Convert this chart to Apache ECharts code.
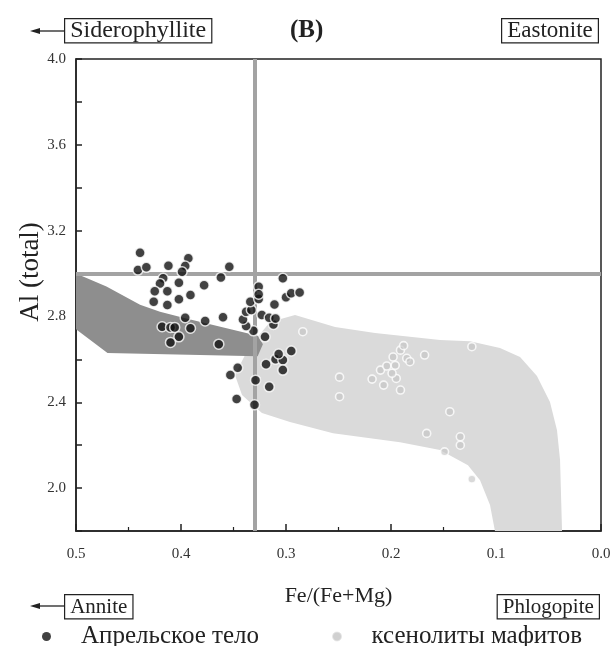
<!DOCTYPE html>
<html>
<head>
<meta charset="utf-8">
<script src="https://cdn.jsdelivr.net/npm/echarts@6/dist/echarts.min.js"></script>
<style>
html,body{margin:0;padding:0;background:#fff;}
#c{width:614px;height:646px;}
</style>
</head>
<body>
<div id="c"></div>
<script>
// ---- data ----
const xTicks = [0.5, 0.4, 0.3, 0.2, 0.1, 0.0];
const yTicks = [2.0, 2.4, 2.8, 3.2, 3.6, 4.0];

const aprelX = [0.439,0.441,0.433,0.412,0.393,0.396,0.399,0.417,0.420,0.402,0.425,0.413,0.391,0.402,0.426,0.413,0.378,0.362,0.354,0.360,0.377,0.396,0.391,0.418,0.410,0.406,0.402,0.410,0.364,0.353,0.346,0.347,0.330,0.329,0.316,0.319,0.310,0.303,0.303,0.295,0.307,0.320,0.312,0.331,0.338,0.341,0.338,0.333,0.323,0.316,0.310,0.334,0.326,0.326,0.326,0.311,0.300,0.295,0.287,0.303];
const aprelY = [3.097,3.016,3.029,3.036,3.071,3.035,3.008,2.978,2.954,2.957,2.918,2.918,2.900,2.880,2.869,2.853,2.946,2.982,3.032,2.796,2.779,2.794,2.745,2.752,2.749,2.749,2.705,2.679,2.671,2.527,2.561,2.415,2.388,2.503,2.472,2.577,2.601,2.597,2.550,2.639,2.625,2.705,2.763,2.733,2.755,2.786,2.822,2.830,2.807,2.794,2.791,2.869,2.881,2.938,2.904,2.856,2.889,2.908,2.912,2.978];

const xenoX = [0.284,0.249,0.249,0.218,0.210,0.204,0.198,0.191,0.188,0.185,0.195,0.191,0.199,0.182,0.168,0.123,0.144,0.166,0.134,0.134,0.149,0.123,0.207,0.196];
const xenoY = [2.729,2.517,2.426,2.508,2.550,2.569,2.611,2.643,2.664,2.605,2.511,2.457,2.535,2.589,2.620,2.659,2.356,2.255,2.239,2.200,2.169,2.042,2.480,2.572];

// Phlogopite field (light) outline
const lightFieldX = [0.3295,0.3152,0.2914,0.2533,0.2152,0.1533,0.1248,0.0962,0.0771,0.0610,0.0486,0.0419,0.0390,0.0371,0.1010,0.1057,0.1152,0.1267,0.1533,0.1914,0.2552,0.2962,0.3229,0.3419,0.3486,0.3390];
const lightFieldY = [2.690,2.774,2.807,2.751,2.723,2.690,2.685,2.653,2.611,2.522,2.401,2.270,2.131,1.800,1.800,1.921,2.037,2.107,2.177,2.214,2.256,2.308,2.350,2.434,2.527,2.620];

// Annite field (dark) outline
const darkFieldX = [0.5,0.471,0.439,0.420,0.395,0.327,0.322,0.327,0.470,0.5];
const darkFieldY = [3.0,2.94,2.855,2.822,2.79,2.71,2.67,2.615,2.63,2.74];

const refLineX = 1/3;
const refLineY = 3.0;

const seriesNames = ['Апрельское тело', 'ксенолиты мафитов'];

// ---- chart ----
const zip = (a, b) => a.map((v, i) => [v, b[i]]);
const serif = "'Liberation Serif','DejaVu Serif',serif";

function polygonSeries(name, xs, ys, color, z) {
  const pts = zip(xs, ys);
  return {
    type: 'custom', name: name, z: z, silent: true,
    data: [0],
    renderItem: function (params, api) {
      return {
        type: 'polygon',
        shape: { points: pts.map(p => api.coord(p)) },
        style: { fill: color }
      };
    }
  };
}

const chart = echarts.init(document.getElementById('c'), null, { renderer: 'canvas' });

function boxText(text, pos, y, size) {
  return Object.assign({
    type: 'text', top: y, z: 100,
    style: {
      text: text, font: size + "px " + serif, fill: '#222', lineHeight: 22,
      backgroundColor: '#fff', borderColor: '#222', borderWidth: 1.2,
      padding: [1, 5, 0, 5]
    }
  }, pos);
}
function arrow(x1, x2, y) {
  return [
    { type: 'line', z: 100, shape: { x1: x1 + 6, y1: y, x2: x2, y2: y }, style: { stroke: '#222', lineWidth: 1.3 } },
    { type: 'polygon', z: 100, shape: { points: [[x1, y], [x1 + 10, y - 3], [x1 + 10, y + 3]] }, style: { fill: '#222' } }
  ];
}

const option = {
  backgroundColor: '#fff',
  animation: false,
  title: {
    text: '(В)', left: 285, top: 13,
    textStyle: { fontFamily: serif, fontWeight: 'bold', fontSize: 25, color: '#222' }
  },
  grid: { left: 76, right: 13, top: 59, bottom: 115, show: true, borderColor: '#222', borderWidth: 1.5, backgroundColor: 'transparent' },
  xAxis: {
    type: 'value', inverse: true, min: 0, max: 0.5, interval: 0.1,
    name: 'Fe/(Fe+Mg)', nameLocation: 'middle', nameGap: 54, nameMoveOverlap: false,
    nameTextStyle: { fontFamily: serif, fontSize: 22, color: '#222' },
    axisLine: { show: true, onZero: false, lineStyle: { color: '#222', width: 1.5 } },
    axisTick: { inside: true, length: 7, lineStyle: { color: '#222', width: 1.5 } },
    minorTick: { show: true, splitNumber: 2, length: 4, lineStyle: { color: '#222', width: 1.2 } },
    splitLine: { show: false },
    axisLabel: {
      margin: 16, fontFamily: serif, fontSize: 15, color: '#333',
      formatter: v => (xTicks.some(t => Math.abs(t - v) < 1e-6) ? v.toFixed(1) : '')
    }
  },
  yAxis: {
    type: 'value', min: 1.8, max: 4.0, interval: 0.2,
    name: 'Al (total)', nameLocation: 'middle', nameGap: 32, nameRotate: 90, nameMoveOverlap: false,
    nameTextStyle: { fontFamily: serif, fontSize: 27, color: '#222', lineHeight: 27, padding: [0, 0, 0, 46] },
    axisLine: { show: true, onZero: false, lineStyle: { color: '#222', width: 1.5 } },
    axisTick: { inside: true, length: 6, lineStyle: { color: '#222', width: 1.5 } },
    splitLine: { show: false },
    axisLabel: {
      margin: 10, fontFamily: serif, fontSize: 15, color: '#333',
      formatter: v => (yTicks.some(t => Math.abs(t - v) < 1e-6) ? v.toFixed(1) : '')
    }
  },
  legend: {
    left: 37, top: 619, itemGap: 73, itemWidth: 9, itemHeight: 9,
    data: [
      { name: seriesNames[0], icon: 'circle', itemStyle: { color: '#111', borderWidth: 0 } },
      { name: seriesNames[1], icon: 'circle', itemStyle: { color: '#c4c4c4', borderColor: '#e6e6e6', borderWidth: 1 } }
    ],
    textStyle: { fontFamily: serif, fontSize: 25, color: '#222', padding: [0, 0, 0, 25] }
  },
  series: [
    polygonSeries('light', lightFieldX, lightFieldY, '#dadada', 1),
    polygonSeries('dark', darkFieldX, darkFieldY, '#8e8e8e', 2),
    {
      type: 'line', name: 'ref', z: 3, data: [], silent: true,
      markLine: {
        silent: true, symbol: ['none', 'none'], label: { show: false },
        lineStyle: { color: '#a3a3a3', width: 4, type: 'solid' },
        data: [{ xAxis: refLineX }, { yAxis: refLineY }]
      }
    },
    {
      type: 'scatter', name: seriesNames[1], z: 4,
      data: zip(xenoX, xenoY),
      symbol: 'circle', symbolSize: 8,
      itemStyle: { color: 'rgba(195,195,195,0.8)', borderColor: '#ffffff', borderWidth: 1.6 }
    },
    {
      type: 'scatter', name: seriesNames[0], z: 5,
      data: zip(aprelX, aprelY),
      symbol: 'circle', symbolSize: 10,
      itemStyle: { color: '#111', borderColor: '#ffffff', borderWidth: 1.5 }
    }
  ],
  graphic: [
    ...arrow(30, 64, 31),
    boxText('Siderophyllite', { left: 64 }, 18, 24),
    boxText('Eastonite', { right: 15 }, 18, 23),
    ...arrow(30, 64, 606),
    boxText('Annite', { left: 64 }, 594, 21),
    boxText('Phlogopite', { right: 14 }, 594, 21)
  ]
};
chart.setOption(option);
</script>
</body>
</html>
